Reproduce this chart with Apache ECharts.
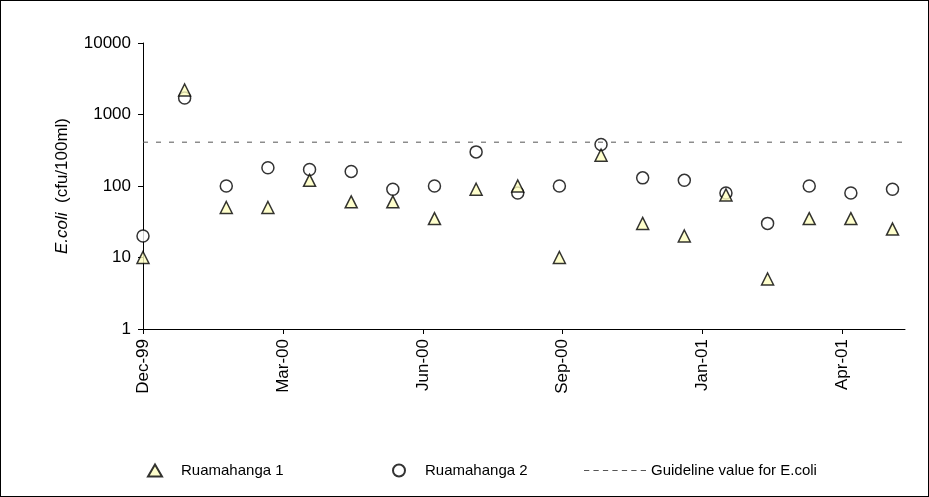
<!DOCTYPE html><html><head><meta charset="utf-8">
<script src="https://cdn.jsdelivr.net/npm/echarts@6/dist/echarts.min.js"></script>
<style>html,body{margin:0;padding:0;background:#fff}#c{width:929px;height:497px;box-sizing:border-box;border:1.5px solid #000}</style>
</head><body><div id="c"></div><script>
const tickLabels=['Dec-99','Mar-00','Jun-00','Sep-00','Jan-01','Apr-01'];
const ruamahanga1=[10,2200,50,50,120,60,60,35,90,100,10,270,30,20,75,5,35,35,25];
const ruamahanga2=[20,1700,100,180,170,160,90,100,300,80,100,380,130,120,80,30,100,80,90];
const guideline=410;
const labelStep=3.36;
const chart=echarts.init(document.getElementById('c'));
const font='Arial, Liberation Sans, sans-serif';
const lt={fontFamily:font,fontSize:15,color:'#000',padding:[0,0,0,14]};
chart.setOption({
 animation:false,
 grid:{left:142,right:23,top:42,bottom:167},
 legend:[
  {left:141,top:457,itemWidth:14,itemHeight:12,textStyle:lt,data:['Ruamahanga 1']},
  {left:386,top:457,itemWidth:14,itemHeight:12,textStyle:lt,data:['Ruamahanga 2']},
  {left:578,top:457,itemWidth:62,itemHeight:2,textStyle:Object.assign({},lt,{padding:[0,0,0,0]}),
   data:[{name:'Guideline value for E.coli',icon:'path://M0,0h5v1h-5zM9,0h5v1h-5zM18,0h5v1h-5zM27,0h5v1h-5zM36,0h5v1h-5zM45,0h5v1h-5zM54,0h5v1h-5z'}]}
 ],
 xAxis:{type:'value',min:0,max:18.3,interval:labelStep,
  axisLine:{lineStyle:{color:'#000'}},axisTick:{lineStyle:{color:'#000'},length:5},splitLine:{show:false},
  axisLabel:{rotate:90,fontFamily:font,fontSize:17,color:'#000',margin:10,showMaxLabel:false,
   formatter:v=>tickLabels[Math.round(v/labelStep)]||''}},
 yAxis:{type:'log',min:1,max:10000,logBase:10,
  name:'{i|E.coli}  (cfu/100ml)',nameLocation:'middle',nameGap:72,
  nameTextStyle:{fontFamily:font,fontSize:17,color:'#000',rich:{i:{fontStyle:'italic',fontFamily:font,fontSize:17,color:'#000'}}},
  axisLine:{show:true,lineStyle:{color:'#000'}},axisTick:{show:true,inside:false,lineStyle:{color:'#000'},length:5},
  splitLine:{show:false},axisLabel:{fontFamily:font,fontSize:17,color:'#000',margin:12,formatter:v=>String(Math.round(v))}},
 series:[
  {name:'Ruamahanga 1',type:'scatter',symbol:'triangle',symbolSize:12,
   itemStyle:{color:'#ffffc0',borderColor:'#000',borderWidth:1.5},
   data:ruamahanga1.map((v,i)=>[i,v]),z:3},
  {name:'Ruamahanga 2',type:'scatter',symbol:'circle',symbolSize:12,
   itemStyle:{color:'#fff',borderColor:'#000',borderWidth:1.5},
   data:ruamahanga2.map((v,i)=>[i,v]),z:2},
  {name:'Guideline value for E.coli',type:'line',symbol:'none',
   lineStyle:{color:'#555',type:[5,8],width:1},itemStyle:{color:'#555'},
   data:[[0,guideline],[18.3,guideline]]}
 ]
});
</script></body></html>
